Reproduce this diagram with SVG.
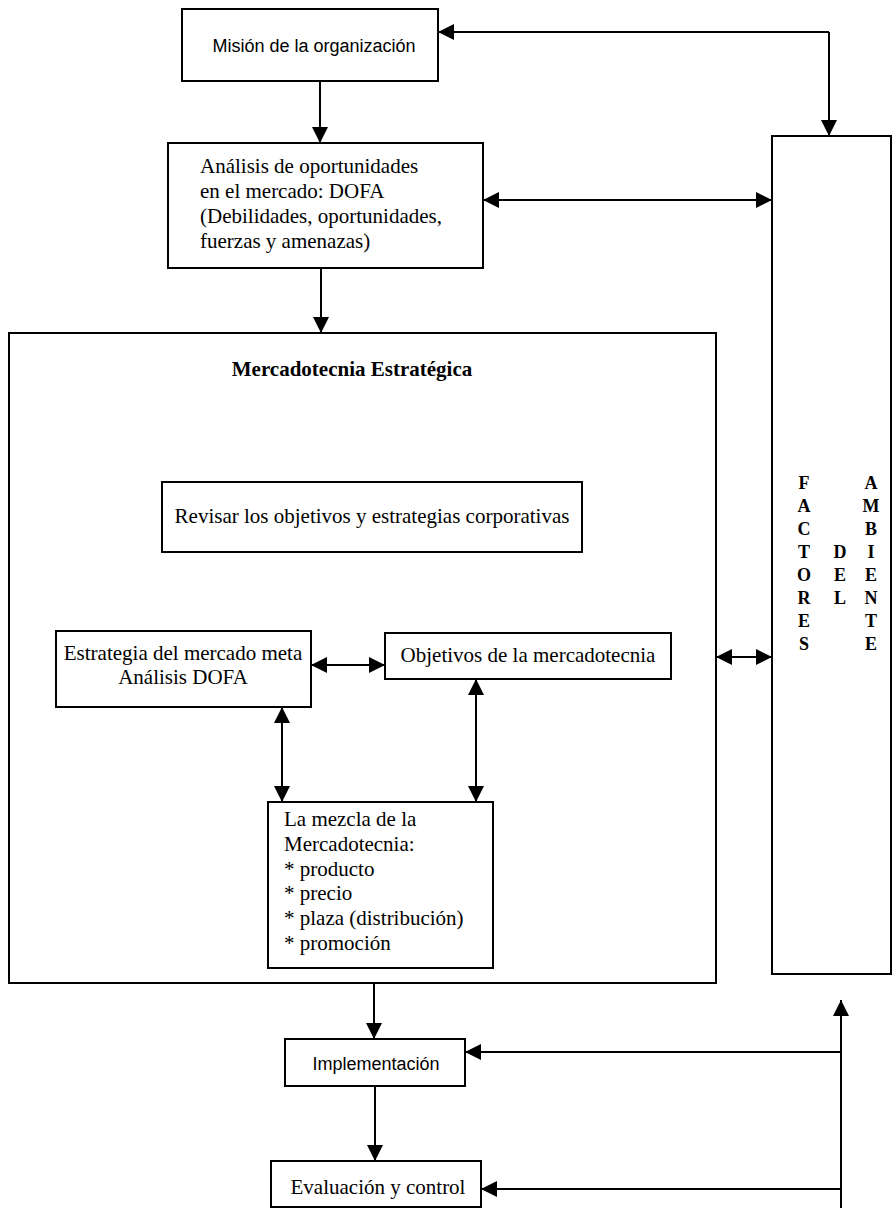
<svg xmlns="http://www.w3.org/2000/svg" width="895" height="1208" viewBox="0 0 895 1208">
  <defs>
    <marker id="arrow" markerUnits="userSpaceOnUse" markerWidth="16" markerHeight="16" refX="16" refY="8" orient="auto-start-reverse">
      <path d="M0,0 L16,8 L0,16 z" fill="#000"/>
    </marker>
  </defs>
  <style>
    .box { fill: #fff; stroke: #000; stroke-width: 2; }
    .link { fill: none; stroke: #000; stroke-width: 2; }
    .serif { font-family: "Liberation Serif", "Times New Roman", serif; font-size: 21px; fill: #000; }
    .sans { font-family: "Liberation Sans", Arial, sans-serif; font-size: 18px; fill: #000; }
    .title { font-family: "Liberation Serif", "Times New Roman", serif; font-size: 21px; font-weight: bold; fill: #000; }
    .letter { font-family: "Liberation Serif", "Times New Roman", serif; font-size: 18px; font-weight: bold; fill: #000; text-anchor: middle; }
  </style>
  <rect width="895" height="1208" fill="#fff"/>

  <!-- outer strategic marketing frame -->
  <g id="mercadotecnia-estrategica">
    <rect class="box" x="9" y="333" width="707" height="650"/>
    <text class="title" x="352" y="376" text-anchor="middle">Mercadotecnia Estratégica</text>
  </g>

  <!-- environment factors column, written vertically letter by letter -->
  <g id="factores-ambiente">
    <rect class="box" x="772" y="136" width="119" height="838"/>
    <text class="letter" x="804" y="489">F</text>
    <text class="letter" x="804" y="512">A</text>
    <text class="letter" x="804" y="535">C</text>
    <text class="letter" x="804" y="558">T</text>
    <text class="letter" x="804" y="581">O</text>
    <text class="letter" x="804" y="604">R</text>
    <text class="letter" x="804" y="627">E</text>
    <text class="letter" x="804" y="650">S</text>
    <text class="letter" x="840" y="558">D</text>
    <text class="letter" x="840" y="581">E</text>
    <text class="letter" x="840" y="604">L</text>
    <text class="letter" x="871" y="489">A</text>
    <text class="letter" x="871" y="512">M</text>
    <text class="letter" x="871" y="535">B</text>
    <text class="letter" x="871" y="558">I</text>
    <text class="letter" x="871" y="581">E</text>
    <text class="letter" x="871" y="604">N</text>
    <text class="letter" x="871" y="627">T</text>
    <text class="letter" x="871" y="650">E</text>
  </g>

  <g id="mision">
    <rect class="box" x="182" y="9" width="256" height="72"/>
    <text class="sans" x="314" y="52" text-anchor="middle">Misión de la organización</text>
  </g>

  <g id="analisis">
    <rect class="box" x="168" y="143" width="315" height="125"/>
    <text class="serif" x="200" y="173">Análisis de oportunidades</text>
    <text class="serif" x="200" y="198">en el mercado: DOFA</text>
    <text class="serif" x="200" y="223">(Debilidades, oportunidades,</text>
    <text class="serif" x="200" y="248">fuerzas y amenazas)</text>
  </g>

  <g id="revisar">
    <rect class="box" x="162" y="482" width="420" height="70"/>
    <text class="serif" x="372" y="523" text-anchor="middle">Revisar los objetivos y estrategias corporativas</text>
  </g>

  <g id="estrategia">
    <rect class="box" x="56" y="631" width="255" height="76"/>
    <text class="serif" x="183" y="660" text-anchor="middle">Estrategia del mercado meta</text>
    <text class="serif" x="183" y="684" text-anchor="middle">Análisis DOFA</text>
  </g>

  <g id="objetivos">
    <rect class="box" x="385" y="633" width="286" height="46"/>
    <text class="serif" x="528" y="662" text-anchor="middle">Objetivos de la mercadotecnia</text>
  </g>

  <g id="mezcla">
    <rect class="box" x="268" y="802" width="225" height="166"/>
    <text class="serif" x="284" y="826">La mezcla de la</text>
    <text class="serif" x="284" y="851">Mercadotecnia:</text>
    <text class="serif" x="284" y="876">* producto</text>
    <text class="serif" x="284" y="900">* precio</text>
    <text class="serif" x="284" y="925">* plaza (distribución)</text>
    <text class="serif" x="284" y="950">* promoción</text>
  </g>

  <g id="implementacion">
    <rect class="box" x="285" y="1039" width="180" height="47"/>
    <text class="sans" x="376" y="1070" font-size="19" text-anchor="middle">Implementación</text>
  </g>

  <g id="evaluacion">
    <rect class="box" x="271" y="1161" width="210" height="46"/>
    <text class="serif" x="378" y="1194" text-anchor="middle">Evaluación y control</text>
  </g>

  <!-- connectors -->
  <g id="connectors">
    <path class="link" d="M829,32 L438,32" marker-end="url(#arrow)"/>
    <path class="link" d="M829,32 L829,136" marker-end="url(#arrow)"/>
    <path class="link" d="M320,81 L320,143" marker-end="url(#arrow)"/>
    <path class="link" d="M483,200 L772,200" marker-start="url(#arrow)" marker-end="url(#arrow)"/>
    <path class="link" d="M321,268 L321,333" marker-end="url(#arrow)"/>
    <path class="link" d="M311,665 L385,665" marker-start="url(#arrow)" marker-end="url(#arrow)"/>
    <path class="link" d="M282,707 L282,802" marker-start="url(#arrow)" marker-end="url(#arrow)"/>
    <path class="link" d="M476,679 L476,802" marker-start="url(#arrow)" marker-end="url(#arrow)"/>
    <path class="link" d="M716,657 L772,657" marker-start="url(#arrow)" marker-end="url(#arrow)"/>
    <path class="link" d="M374,983 L374,1039" marker-end="url(#arrow)"/>
    <path class="link" d="M375,1086 L375,1161" marker-end="url(#arrow)"/>
    <path class="link" d="M841,1208 L841,1000" marker-end="url(#arrow)"/>
    <path class="link" d="M841,1052 L465,1052" marker-end="url(#arrow)"/>
    <path class="link" d="M841,1189 L481,1189" marker-end="url(#arrow)"/>
  </g>
</svg>
